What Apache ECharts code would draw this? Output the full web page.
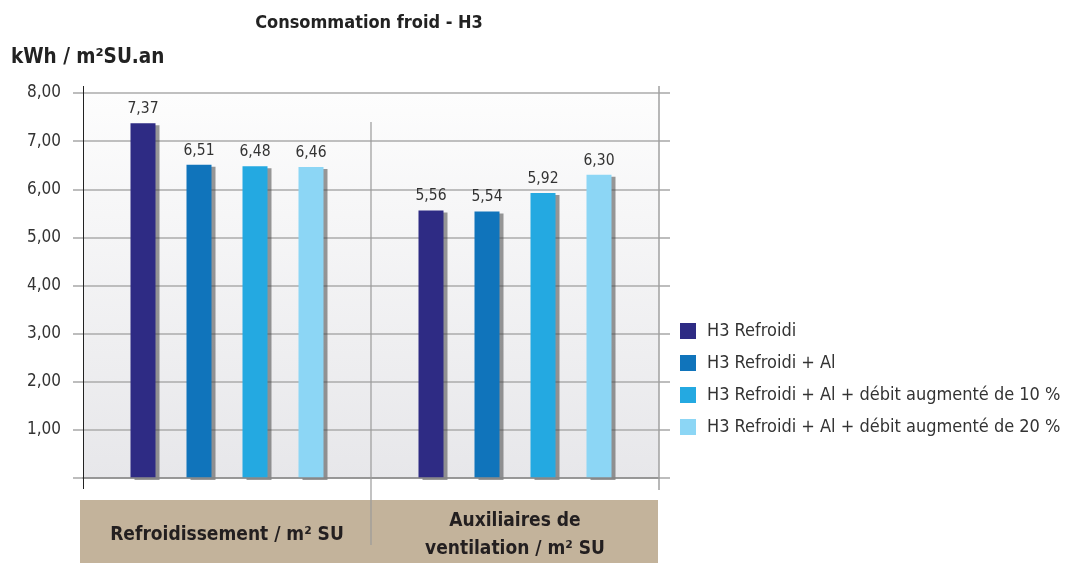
<!DOCTYPE html>
<html>
<head>
<meta charset="utf-8">
<script src="https://cdn.jsdelivr.net/npm/echarts@6/dist/echarts.min.js"></script>
<style>
  html, body { margin: 0; padding: 0; background: #fff; }
  #chart { width: 1065px; height: 563px; }
</style>
</head>
<body>
<div id="chart"></div>
<script>
// Cooling consumption for the H3 building, per usable surface
const categories = ['Refroidissement / m² SU', 'Auxiliaires de\nventilation / m² SU'];
const seriesNames = [
  'H3 Refroidi',
  'H3 Refroidi + Al',
  'H3 Refroidi + Al + débit augmenté de 10 %',
  'H3 Refroidi + Al + débit augmenté de 20 %'
];
const refroidi = [7.37, 5.56];
const refroidiAl = [6.51, 5.54];
const refroidiAl10 = [6.48, 5.92];
const refroidiAl20 = [6.46, 6.30];
const seriesColors = ['#2e2b84', '#1074bb', '#24a9e1', '#8cd6f5'];

const FONT = '"Liberation Sans Narrow", "DejaVu Sans Condensed", "Roboto", sans-serif';
const fmt = v => v.toFixed(2).replace('.', ',');

const GRID = { left: 83, right: 406, top: 93, bottom: 85 };

const chart = echarts.init(document.getElementById('chart'), null, { renderer: 'canvas' });

const values = [refroidi, refroidiAl, refroidiAl10, refroidiAl20];

const option = {
  animation: false,
  textStyle: { fontFamily: FONT },
  title: {
    text: 'Consommation froid - H3',
    left: 364, top: 9, textAlign: 'center',
    textStyle: { fontFamily: FONT, fontSize: 18, fontWeight: 'bold', color: '#222' }
  },
  graphic: [],
  legend: {
    orient: 'vertical',
    left: 680, top: 322,
    padding: 0,
    itemWidth: 16, itemHeight: 16, itemGap: 14,
    icon: 'rect',
    textStyle: { fontFamily: FONT, fontSize: 18, lineHeight: 16, height: 16, color: '#333', padding: [0, 0, 0, 6] },
    data: seriesNames
  },
  grid: {
    left: GRID.left, right: GRID.right, top: GRID.top, bottom: GRID.bottom,
    show: true, borderWidth: 0,
    backgroundColor: {
      type: 'linear', x: 0, y: 0, x2: 0, y2: 1,
      colorStops: [{ offset: 0, color: '#fdfdfd' }, { offset: 1, color: '#e7e7ea' }]
    }
  },
  xAxis: {
    type: 'category',
    data: categories,
    z: 5,
    axisLine: { show: true, lineStyle: { color: '#8a8a8a', width: 1.5 } },
    axisTick: { show: false },
    axisLabel: {
      interval: 0,
      hideOverlap: false,
      margin: 57,
      verticalAlign: 'middle',
      fontFamily: FONT, fontSize: 19, fontWeight: 'bold', color: '#231f20',
      lineHeight: 28
    },
    splitLine: { show: false }
  },
  yAxis: [{
    type: 'value',
    min: 0, max: 8, interval: 1,
    name: 'kWh / m²SU.an',
    nameLocation: 'end',
    nameGap: 0,
    nameTextStyle: {
      fontFamily: FONT, fontSize: 20.5, fontWeight: 'bold', color: '#222',
      align: 'left', verticalAlign: 'bottom', padding: [0, 0, 25, -72]
    },
    axisLine: { show: false },
    axisTick: { show: true, inside: false, length: 10, lineStyle: { color: '#a8a8a8', width: 1.5 } },
    axisLabel: {
      margin: 22,
      fontFamily: FONT, fontSize: 17, color: '#333',
      formatter: v => (v === 0 ? '' : fmt(v))
    },
    splitLine: { show: true, lineStyle: { color: '#ababab', width: 1.5 } }
  }, {
    type: 'value',
    position: 'right',
    min: 0, max: 8, interval: 1,
    axisLine: { show: false },
    axisTick: { show: true, inside: false, length: 11, lineStyle: { color: '#a8a8a8', width: 1.5 } },
    axisLabel: { show: false },
    splitLine: { show: false }
  }],
  series: seriesNames.map((name, i) => ({
    name: name,
    type: 'bar',
    data: values[i],
    barWidth: 25,
    barGap: '124%',
    itemStyle: {
      color: seriesColors[i],
      shadowColor: 'rgba(70,70,70,0.55)',
      shadowOffsetX: 4, shadowOffsetY: 2, shadowBlur: 0
    },
    label: {
      show: true, position: 'top', distance: 6,
      fontFamily: FONT, fontSize: 15.5, color: '#333',
      formatter: p => fmt(p.value)
    }
  }))
};

chart.setOption(option);

// Decorations placed from the axes' own pixel positions
function placeDecorations() {
  const c0 = chart.convertToPixel({ xAxisIndex: 0 }, 0);
  const c1 = chart.convertToPixel({ xAxisIndex: 0 }, 1);
  const band = c1 - c0;
  const xLeft = c0 - band / 2;
  const xMid = c0 + band / 2;
  const xRight = c1 + band / 2;
  const yTop = chart.convertToPixel({ yAxisIndex: 0 }, 8);
  const yZero = chart.convertToPixel({ yAxisIndex: 0 }, 0);
  const H = chart.getHeight();

  chart.setOption({
    graphic: [
      {
        type: 'rect', z: -1, silent: true,
        shape: { x: xLeft - 3, y: yZero + 22, width: xRight - xLeft + 2, height: H - yZero - 22 },
        style: { fill: '#c3b39b' }
      },
      {
        type: 'line', z: 10, silent: true,
        shape: { x1: xLeft + 0.5, y1: yTop - 7, x2: xLeft + 0.5, y2: yZero + 11 },
        style: { stroke: '#222', lineWidth: 1 }
      },
      {
        type: 'line', z: 10, silent: true,
        shape: { x1: xMid, y1: yTop + 29, x2: xMid, y2: H - 18 },
        style: { stroke: '#9a9a9a', lineWidth: 1.2 }
      },
      {
        type: 'line', z: 10, silent: true,
        shape: { x1: xRight, y1: yTop - 7, x2: xRight, y2: yZero + 12 },
        style: { stroke: '#a0a0a0', lineWidth: 1.5 }
      }
    ]
  });
}
placeDecorations();
</script>
</body>
</html>
